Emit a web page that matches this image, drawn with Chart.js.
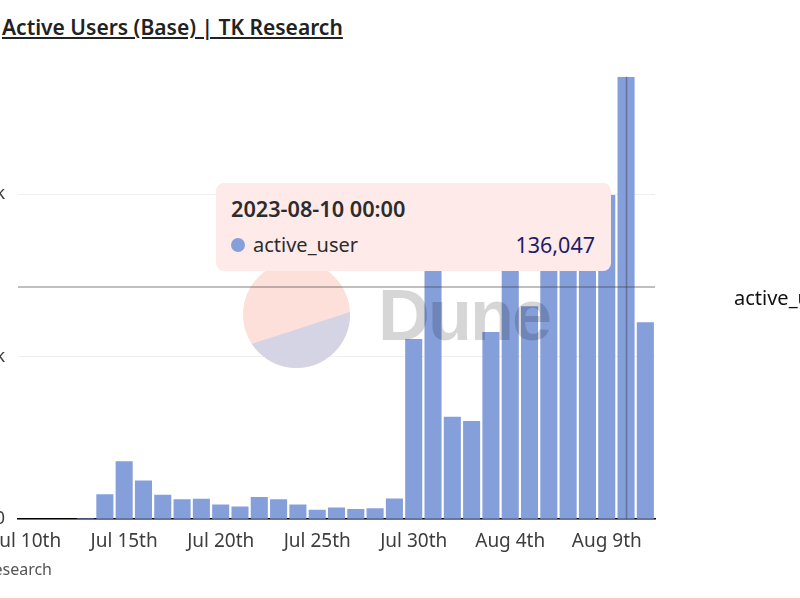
<!DOCTYPE html>
<html>
<head>
<meta charset="utf-8">
<script src="https://cdn.jsdelivr.net/npm/chart.js@4"></script>
<style>
html, body { margin: 0; padding: 0; width: 800px; height: 600px; overflow: hidden; background: #fff; font-family: "Noto Sans", sans-serif; }
#chartBox { position: absolute; left: -60px; top: 53px; width: 860px; height: 511px; }
#title { position: absolute; left: 2px; top: 13px; font-size: 21px; font-weight: 600; color: #222; text-decoration: underline; white-space: nowrap; }
#legendName { position: absolute; left: 734px; top: 284px; font-size: 20px; color: #111; white-space: nowrap; }
#source { position: absolute; right: 748px; top: 558px; font-size: 16px; color: #555; white-space: nowrap; }
#bottomLine { position: absolute; left: 0; top: 598px; width: 800px; height: 2px; background: #fdc9c3; }
#tip { position: absolute; left: 216px; top: 183px; width: 395px; height: 88px; background: #feebe9; border-radius: 8px; }
#tipTitle { position: absolute; left: 15px; top: 11px; font-size: 21.7px; font-weight: 600; color: #2c2c2c; }
#tipDot { position: absolute; left: 15px; top: 55px; width: 14px; height: 14px; border-radius: 50%; background: #859fdb; }
#tipName { position: absolute; left: 37px; top: 48px; font-size: 20px; color: #2c2c2c; }
#tipValue { position: absolute; right: 16px; top: 47px; font-size: 21.5px; color: #1f1a6b; }
</style>
</head>
<body>
<div id="title">Active Users (Base) | TK Research</div>
<div id="chartBox"><canvas id="graphic"></canvas></div>
<div id="legendName">active_user</div>
<div id="source">TK Research</div>
<div id="bottomLine"></div>
<div id="tip">
  <div id="tipTitle"></div>
  <div id="tipDot"></div>
  <div id="tipName"></div>
  <div id="tipValue"></div>
</div>
<script>
const days = [
  'Jul 10th','Jul 11th','Jul 12th','Jul 13th','Jul 14th','Jul 15th','Jul 16th','Jul 17th','Jul 18th','Jul 19th','Jul 20th',
  'Jul 21st','Jul 22nd','Jul 23rd','Jul 24th','Jul 25th','Jul 26th','Jul 27th','Jul 28th','Jul 29th','Jul 30th','Jul 31st',
  'Aug 1st','Aug 2nd','Aug 3rd','Aug 4th','Aug 5th','Aug 6th','Aug 7th','Aug 8th','Aug 9th','Aug 10th','Aug 11th'
];
const activeUser = [
  0, 0, 0, 300, 7700, 17800, 11900, 7500, 6150, 6300, 4500,
  3900, 6800, 6150, 4500, 2900, 3600, 3100, 3400, 6400, 55400, 80000,
  31500, 30200, 57600, 80000, 65500, 85000, 90000, 90000, 99700, 136047, 60600
];
const xTickLabels = ['Jul 10th','Jul 15th','Jul 20th','Jul 25th','Jul 30th','Aug 4th','Aug 9th'];
const yTicks = [0, 50000, 100000];
const hoverDay = 'Aug 10th';
const hoverStamp = '2023-08-10 00:00';
const hoverY = 71400;

/* marca de agua y cruz del cursor, por encima de las barras */
const overlayPlugin = {
  id: 'overlay',
  afterDatasetsDraw(chart) {
    const ctx = chart.ctx;
    const { x, y } = chart.scales;
    const area = chart.chartArea;
    const ox = 60, oy = 53;
    ctx.save();
    ctx.beginPath();
    ctx.arc(296.5 + ox, 314.5 - oy, 53.5, 0, Math.PI * 2);
    ctx.clip();
    ctx.fillStyle = '#fee0da';
    ctx.fillRect(230 + ox, 250 - oy, 140, 130);
    ctx.beginPath();
    ctx.moveTo(230 + ox, 351 - oy);
    ctx.lineTo(370 + ox, 305.5 - oy);
    ctx.lineTo(370 + ox, 380 - oy);
    ctx.lineTo(230 + ox, 380 - oy);
    ctx.closePath();
    ctx.fillStyle = '#d4d4e4';
    ctx.fill();
    ctx.restore();

    ctx.save();
    ctx.fillStyle = 'rgba(0,0,0,0.16)';
    ctx.font = '700 72px "Liberation Sans"';
    ctx.letterSpacing = '-2px';
    ctx.textBaseline = 'alphabetic';
    ctx.fillText('Dune', 378 + ox, 340 - oy);
    ctx.restore();

    ctx.save();
    const cx = Math.round(x.getPixelForValue(days.indexOf(hoverDay))) + 0.5;
    const cy = Math.round(y.getPixelForValue(hoverY));
    ctx.strokeStyle = 'rgba(60,60,80,0.45)';
    ctx.lineWidth = 1.5;
    ctx.beginPath();
    ctx.moveTo(cx, area.top);
    ctx.lineTo(cx, area.bottom);
    ctx.stroke();
    ctx.strokeStyle = 'rgba(60,60,60,0.33)';
    ctx.lineWidth = 2;
    ctx.beginPath();
    ctx.moveTo(area.left, cy);
    ctx.lineTo(area.right, cy);
    ctx.stroke();
    ctx.restore();
  }
};

const config = {
  type: 'bar',
  data: {
    labels: days,
    datasets: [{
      label: 'active_user',
      data: activeUser,
      backgroundColor: '#859fdb',
      barPercentage: 0.885,
      categoryPercentage: 1
    }]
  },
  options: {
    responsive: false,
    animation: false,
    events: [],
    layout: { padding: { left: 0, right: 145, top: 10, bottom: 0 } },
    plugins: {
      legend: { display: false },
      tooltip: { enabled: false }
    },
    scales: {
      x: {
        grid: { display: false, drawTicks: false },
        border: { color: '#000', width: 1.5 },
        ticks: {
          autoSkip: false,
          maxRotation: 0,
          padding: 11,
          color: '#3d3d3d',
          font: { family: 'Noto Sans', size: 19 },
          callback(value) {
            const name = this.getLabelForValue(value);
            return xTickLabels.includes(name) ? name : '';
          }
        }
      },
      y: {
        min: 0,
        max: 136047,
        afterFit(axis) { axis.width = 78; },
        afterBuildTicks(axis) { axis.ticks = yTicks.map(v => ({ value: v })); },
        grid: { color: '#eeeeee', drawTicks: false },
        border: { display: false },
        ticks: {
          padding: 13,
          color: '#3d3d3d',
          font: { family: 'Noto Sans', size: 18 },
          callback(value) { return value === 0 ? '0' : (value / 1000) + 'k'; }
        }
      }
    }
  },
  plugins: [overlayPlugin]
};

const canvas = document.querySelector('#graphic');
canvas.width = 860;
canvas.height = 511;
canvas.style.width = '860px';
canvas.style.height = '511px';
new Chart(canvas, config);

document.querySelector('#tipTitle').textContent = hoverStamp;
document.querySelector('#tipName').textContent = 'active_user';
document.querySelector('#tipValue').textContent = activeUser[days.indexOf(hoverDay)].toLocaleString('en-US');
</script>
</body>
</html>
